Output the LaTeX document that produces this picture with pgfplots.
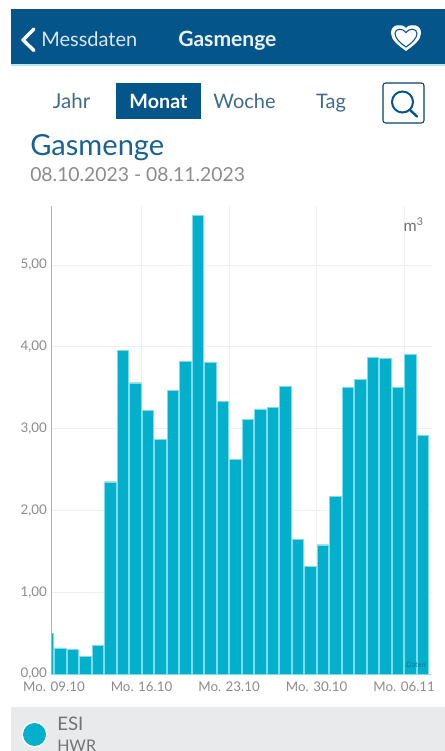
\documentclass[border=0pt]{standalone}
\usepackage{pgfplots}
\pgfplotsset{compat=1.18}
\usepackage{fontspec}
\setmainfont{Lato}
\definecolor{hdr}{HTML}{04568A}
\definecolor{barc}{HTML}{04AFCB}
\definecolor{barl}{HTML}{7FDCEA}
\definecolor{gridc}{HTML}{EFEFEF}
\definecolor{txt}{HTML}{8C8C8C}
\definecolor{panel}{HTML}{E8EAEC}
\definecolor{navtxt}{HTML}{3F6C8C}
\begin{document}
\begin{tikzpicture}
\begin{scope}[x=0.75pt,y=-0.75pt]
\path[use as bounding box] (0,0) rectangle (445,751);
\fill[white] (0,0) rectangle (445,751);
% header
\fill[hdr] (11,9) rectangle (445,64);
\fill[barl!60] (11,64) rectangle (445,65.5);
\draw[white,line width=2.6pt,line cap=round,line join=round] (34,29) -- (23,40) -- (34,50.5);
\node[anchor=base west,text=white!85!hdr,font=\fontsize{15pt}{17pt}\selectfont,inner sep=0] at (41,46) {Messdaten};
\node[anchor=base west,text=white!92!hdr,font=\fontsize{15.8pt}{17pt}\selectfont\bfseries,inner sep=0] at (178,46) {Gasmenge};
% heart
\path[fill=white] (406,51) .. controls (398,45) and (391,40) .. (391,33) .. controls (391,24) and (402,23) .. (406,28) .. controls (410,23) and (421,24) .. (421,33) .. controls (421,40) and (414,45) .. (406,51) -- cycle;
\path[draw=hdr,line width=0.8pt,fill=white] (406,47) .. controls (400,43) and (395,38) .. (395,33.5) .. controls (395,28) and (403,28) .. (406,32.5) .. controls (409,28) and (417,28) .. (417,33.5) .. controls (417,38) and (412,43) .. (406,47) -- cycle;
% tabs
\fill[hdr] (116,83) rectangle (201,119);
\node[anchor=base,text=navtxt,font=\fontsize{15.4pt}{17pt}\selectfont,inner sep=0] at (71.5,108) {Jahr};
\node[anchor=base,text=white,font=\fontsize{14.8pt}{17pt}\selectfont\bfseries,inner sep=0] at (158.5,108) {Monat};
\node[anchor=base,text=navtxt,font=\fontsize{15pt}{17pt}\selectfont,inner sep=0] at (244.5,108) {Woche};
\node[anchor=base,text=navtxt,font=\fontsize{15pt}{17pt}\selectfont,inner sep=0] at (331,108) {Tag};
\draw[hdr!80!black,line width=0.8pt,rounded corners=2pt] (383,83) rectangle (424,123);
\draw[hdr,line width=1.5pt] (402.5,102) circle (10.5);
\draw[hdr,line width=1.8pt,line cap=round] (410,110) -- (417,116.5);
% titles
\node[anchor=base west,text=hdr!92!white,font=\fontsize{21.8pt}{24pt}\selectfont,inner sep=0] at (30,155) {Gasmenge};
\node[anchor=base west,text=txt,font=\fontsize{14.5pt}{17pt}\selectfont,inner sep=0] at (30,181) {08.10.2023 - 08.11.2023};
% panel
\fill[panel] (11,707) rectangle (445,751);
\fill[white] (34.5,734.5) circle (13);
\fill[barc] (34.5,734.5) circle (11.5);
\begin{scope}
\clip (0,700) rectangle (445,751);
\node[anchor=base west,text=black!55,font=\fontsize{14pt}{16pt}\selectfont,inner sep=0] at (57,730) {ESI};
\node[anchor=base west,text=black!55,font=\fontsize{12pt}{14pt}\selectfont,inner sep=0] at (57,751) {HWR};
\end{scope}
\end{scope}
\begin{axis}[
  at={(38.25pt,-505.5pt)},anchor=south west,
  scale only axis,width=285.5pt,height=351pt,
  xmin=-0.24,xmax=30.2,ymin=0,ymax=5.72,
  ybar,bar width=0.92,bar shift=0pt,
  axis line style={draw=none},
  axis x line*=bottom,axis y line*=left,
  xtick={0,7,14,21,28},
  xticklabels={Mo. 09.10,Mo. 16.10,Mo. 23.10,Mo. 30.10,Mo. 06.11},
  extra x ticks={7,14,21,28},
  extra x tick labels={},
  extra x tick style={grid=major,major grid style={gridc,line width=0.6pt}},
  ytick={0,1,2,3,4,5},
  ymajorgrids,major grid style={gridc,line width=0.6pt},
  major tick length=0pt,
  tick style={draw=none},
  tick label style={text=txt,font=\fontsize{10pt}{12pt}\selectfont},
  /pgf/number format/assume math mode=true,
  y tick label style={/pgf/number format/fixed,/pgf/number format/fixed zerofill,/pgf/number format/precision=2,/pgf/number format/use comma},
  yticklabel style={xshift=0.5pt},
  xticklabel style={yshift=-2.6pt},
  clip=true,
]
\addplot[fill=barc,draw=barl,line width=0.3pt] coordinates {
(-0.5,0.50)(0.5,0.32)(1.5,0.30)(2.5,0.22)(3.5,0.35)(4.5,2.35)(5.5,3.96)(6.5,3.56)
(7.5,3.22)(8.5,2.87)(9.5,3.47)(10.5,3.82)(11.5,5.61)(12.5,3.81)(13.5,3.33)(14.5,2.62)
(15.5,3.11)(16.5,3.24)(17.5,3.26)(18.5,3.52)(19.5,1.65)(20.5,1.32)(21.5,1.58)(22.5,2.17)
(23.5,3.50)(24.5,3.60)(25.5,3.87)(26.5,3.86)(27.5,3.50)(28.5,3.91)(29.5,2.92)};
\end{axis}
\begin{scope}[x=0.75pt,y=-0.75pt]
\draw[black!30,line width=0.6pt] (51.5,206) -- (51.5,674);
\draw[barl,line width=0.6pt] (51,674) -- (431,674);
\node[anchor=base east,text=black!55,font=\fontsize{12pt}{14pt}\selectfont,inner sep=0] at (424,231) {m\textsuperscript{3}};
\node[anchor=base east,text=hdr!60!barc,font=\fontsize{5.5pt}{6pt}\selectfont,inner sep=0] at (426,667) {Daten};
\end{scope}
\end{tikzpicture}
\end{document}
